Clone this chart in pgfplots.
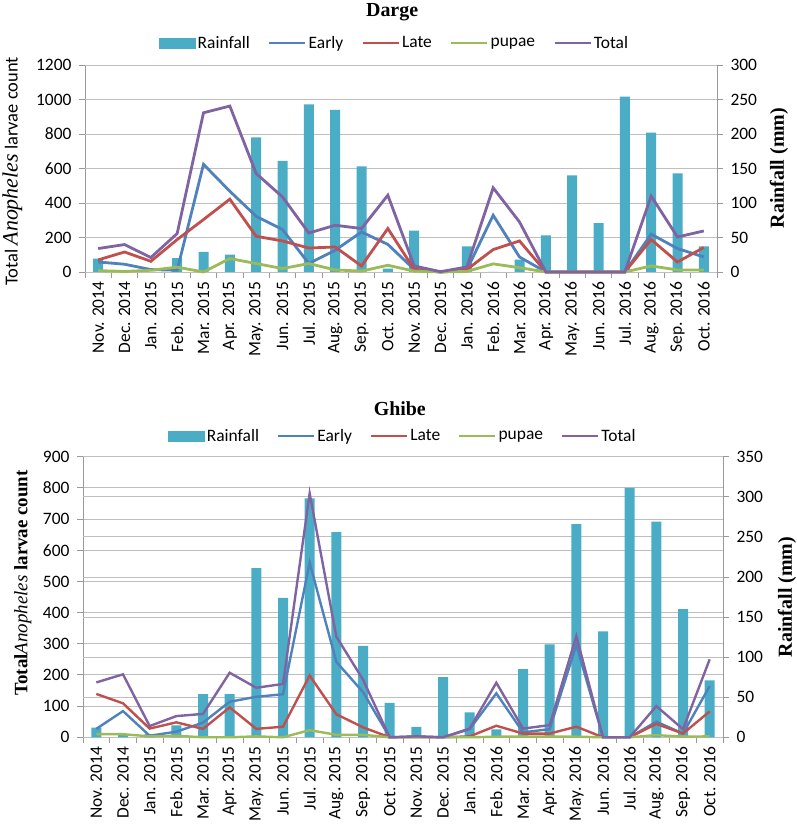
\documentclass[border=0pt]{standalone}
\usepackage{fontspec}
\setmainfont{Carlito}
\newfontfamily\tnr{Liberation Serif}
\usepackage{pgfplots}
\usepackage{pgfplotstable}
\pgfplotsset{compat=1.18}
\definecolor{rainc}{HTML}{4BACC6}
\definecolor{earlyc}{HTML}{4F81BD}
\definecolor{latec}{HTML}{C0504D}
\definecolor{pupc}{HTML}{9BBB59}
\definecolor{totc}{HTML}{8064A2}
\definecolor{gridc}{HTML}{BFBFBF}
\definecolor{axc}{HTML}{999999}

\pgfplotstableread{
idx rain early late pupae total
0  19.5 58  70  8   136
1  0    45  116 3   159
2  0    14  62  10  84
3  20   10  188 28  223
4  29   624 304 0   923
5  25   468 422 78  962
6  195  323 207 49  571
7  161  246 180 20  435
8  243  49  139 49  226
9  235  126 145 12  271
10 153  232 35  5   252
11 5    160 252 39  445
12 60   15  15  5   35
13 0    0   0   0   2
14 37   12  14  3   29
15 0    329 130 47  488
16 18   87  180 25  290
17 53   0   0   0   0
18 140  0   0   0   0
19 71   0   0   0   0
20 254  0   0   0   0
21 202  219 188 35  440
22 143  136 58  12  203
23 37   87  142 12  238
}\darge

\pgfplotstableread{
idx rain early late pupae total
0  12   27  139 10  176
1  3    84  109 10  202
2  4    5   28  3   36
3  15   18  48  5   68
4  54   47  27  0   75
5  54   114 96  0   207
6  211  130 27  3   159
7  174  138 34  0   171
8  298  560 198 23  782
9  256  242 74  8   323
10 114  145 32  8   185
11 43   0   0   0   0
12 13   3   0   0   3
13 75   0   0   0   0
14 31   26  3   0   28
15 10   141 37  2   175
16 85   16  12  2   28
17 116  26  12  2   39
18 266  296 34  2   325
19 132  0   0   0   0
20 311  0   0   0   0
21 269  50  43  7   100
22 160  12  12  2   26
23 71   164 83  3   250
}\ghibe

\pgfplotsset{
  base/.style={
    scale only axis,
    xmin=-0.5, xmax=23.5, ymin=0,
    tick label style={font=\fontsize{17.5}{20}\selectfont},
    /pgf/number format/assume math mode=true,
    /pgf/number format/1000 sep={},
    grid style={gridc, line width=0.9bp},
    axis line style={axc, line width=0.9bp},
    tick align=outside,
    major tick length=6bp,
    minor tick length=6bp,
    every tick/.style={axc, line width=0.9bp},
  },
  leftax/.style={
    base,
    ymajorgrids,
    axis x line*=bottom, axis y line*=left,
    xtick={0,...,23},
    xticklabels={Nov. 2014, Dec. 2014, Jan. 2015, Feb. 2015, Mar. 2015, Apr. 2015, May. 2015, Jun. 2015, Jul. 2015, Aug. 2015, Sep. 2015, Oct. 2015, Nov. 2015, Dec. 2015, Jan. 2016, Feb. 2016, Mar. 2016, Apr. 2016, May. 2016, Jun. 2016, Jul. 2016, Aug. 2016, Sep. 2016, Oct. 2016},
    x tick label style={rotate=90, anchor=east, font=\fontsize{17.5}{20}\selectfont},
    major x tick style={draw=none},
    minor xtick={-0.5,0.5,...,23.5},
    yticklabel style={xshift=-4bp},
  },
  rightax/.style={
    base,
    ymajorgrids,
    axis y line*=right, axis x line=none,
    yticklabel style={xshift=4bp},
  },
  lineax/.style={
    base, hide axis, clip=false,
    legend columns=5,
    legend style={draw=none, fill=none, font=\fontsize{17.5}{20}\selectfont,
      /tikz/every even column/.append style={column sep=16bp}},
    legend image code/.code={\draw[##1] (0bp,0bp) -- (36bp,0bp);},
  },
}

\begin{document}
\begin{tikzpicture}
\useasboundingbox (0,0) rectangle (797bp,825bp);

% ---------------- Darge ----------------
\begin{axis}[leftax, at={(85bp,553bp)}, anchor=south west, width=632bp, height=207bp,
  ymax=1200, ytick={0,200,...,1200},
  title={\tnr\bfseries\fontsize{20}{24}\selectfont Darge},
  title style={at={(axis description cs:0.486,1.226)}, anchor=center, yshift=0pt},
  ylabel={\fontsize{18.5}{20}\selectfont Total {\tnr\itshape\fontsize{22}{22}\selectfont Anopheles} larvae count},
  ylabel style={at={(axis description cs:-0.115,0.486)}, anchor=center}]
\end{axis}
\begin{axis}[rightax, at={(85bp,553bp)}, anchor=south west, width=632bp, height=207bp,
  ymax=300, ytick={0,50,...,300},
  ylabel={\tnr\bfseries\fontsize{20}{20}\selectfont Rainfall (mm)},
  ylabel style={at={(axis description cs:1.098,0.502)}, anchor=center}]
\addplot[ybar, bar width=10bp, fill=rainc, draw=none] table[x=idx, y=rain]{\darge};
\end{axis}
\begin{axis}[lineax, at={(85bp,553bp)}, anchor=south west, width=632bp, height=207bp,
  ymax=1200,
  legend style={at={(axis description cs:0.49,1.106)}, anchor=center}]
\addlegendimage{legend image code/.code={\fill[rainc] (0bp,-5bp) rectangle (36bp,5bp);}}
\addlegendentry{Rainfall}
\addplot[earlyc, line width=2.8bp] table[x=idx, y=early]{\darge};
\addlegendentry{Early}
\addplot[latec, line width=2.8bp] table[x=idx, y=late]{\darge};
\addlegendentry{Late}
\addplot[pupc, line width=2.8bp] table[x=idx, y=pupae]{\darge};
\addlegendentry{pupae}
\addplot[totc, line width=2.8bp] table[x=idx, y=total]{\darge};
\addlegendentry{Total}
\end{axis}

% ---------------- Ghibe ----------------
\begin{axis}[leftax, at={(83bp,87.7bp)}, anchor=south west, width=640bp, height=280.6bp,
  ymax=900, ytick={0,100,...,900},
  title={\tnr\bfseries\fontsize{20}{24}\selectfont Ghibe},
  title style={at={(axis description cs:0.495,1.15)}, anchor=center, yshift=0pt},
  ylabel={\tnr\bfseries\fontsize{19}{20}\selectfont Total{\mdseries\itshape Anopheles} larvae count},
  ylabel style={at={(axis description cs:-0.094,0.55)}, anchor=center}]
\end{axis}
\begin{axis}[rightax, at={(83bp,87.7bp)}, anchor=south west, width=640bp, height=280.6bp,
  ymax=350, ytick={0,50,...,350},
  ylabel={\tnr\bfseries\fontsize{20}{20}\selectfont Rainfall (mm)},
  ylabel style={at={(axis description cs:1.1,0.5)}, anchor=center}]
\addplot[ybar, bar width=10bp, fill=rainc, draw=none] table[x=idx, y=rain]{\ghibe};
\end{axis}
\begin{axis}[lineax, at={(83bp,87.7bp)}, anchor=south west, width=640bp, height=280.6bp,
  ymax=900,
  legend style={at={(axis description cs:0.5,1.074)}, anchor=center}]
\addlegendimage{legend image code/.code={\fill[rainc] (0bp,-5bp) rectangle (36bp,5bp);}}
\addlegendentry{Rainfall}
\addplot[earlyc, line width=2.4bp] table[x=idx, y=early]{\ghibe};
\addlegendentry{Early}
\addplot[latec, line width=2.4bp] table[x=idx, y=late]{\ghibe};
\addlegendentry{Late}
\addplot[pupc, line width=2.4bp] table[x=idx, y=pupae]{\ghibe};
\addlegendentry{pupae}
\addplot[totc, line width=2.4bp] table[x=idx, y=total]{\ghibe};
\addlegendentry{Total}
\end{axis}
\end{tikzpicture}
\end{document}
